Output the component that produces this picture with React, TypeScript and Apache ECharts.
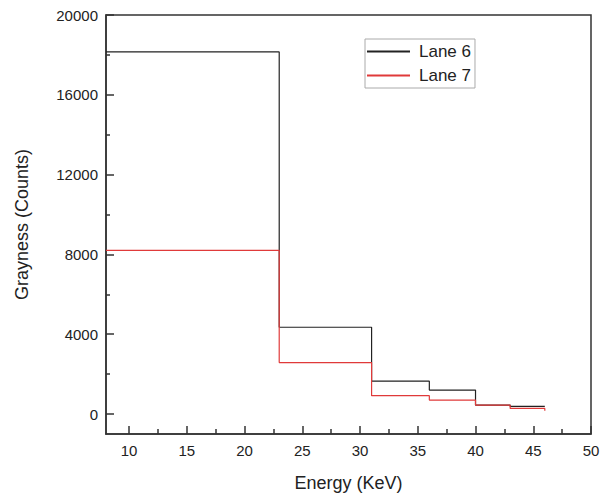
import React, { useEffect, useRef } from "react";
import * as echarts from "echarts";

const energy6 = [8, 23, 31, 36, 40, 43, 46];
const lane6 = [18150, 4350, 1650, 1200, 450, 380, 380];
const energy7 = [8, 23, 31, 36, 40, 43, 46, 46];
const lane7 = [8200, 2580, 920, 700, 450, 280, 280, 160];
const xMajor = [10, 15, 20, 25, 30, 35, 40, 45, 50];
const xMinor = [12.5, 17.5, 22.5, 27.5, 32.5, 37.5, 42.5, 47.5];
const yMajor = [0, 4000, 8000, 12000, 16000, 20000];
const yMinor = [2000, 6000, 10000, 14000, 18000];

export default function App() {
  const ref = useRef<HTMLDivElement>(null);
  useEffect(() => {
    if (!ref.current) return;
    const chart = echarts.init(ref.current, null, { renderer: "svg" });
    const axisColor = "#333";
    const font = "Liberation Sans, Arial, sans-serif";
    chart.setOption({
      animation: false,
      backgroundColor: "#fff",
      grid: {
        left: 106, right: 13, top: 15, bottom: 61,
        show: true, borderColor: axisColor, borderWidth: 1.5, backgroundColor: "transparent",
      },
      legend: {
        data: ["Lane 6", "Lane 7"],
        orient: "vertical",
        left: 365, top: 39,
        borderColor: "#aaa", borderWidth: 1,
        padding: [4, 4, 4, 2],
        itemGap: 7,
        itemWidth: 43, itemHeight: 2,
        icon: "rect",
        textStyle: { fontSize: 17, color: "#222", fontFamily: font, padding: [0, 0, 0, 4] },
      },
      xAxis: [
        {
          type: "value", min: 8, max: 50,
          name: "Energy (KeV)", nameLocation: "middle", nameGap: 40,
          nameTextStyle: { fontSize: 18, color: "#222", fontFamily: font },
          splitLine: { show: false },
          axisLine: { show: true, onZero: false, lineStyle: { color: axisColor, width: 1.5 } },
          axisTick: { show: true, inside: true, length: 8, customValues: xMajor, lineStyle: { color: axisColor, width: 1.5 } },
          axisLabel: { customValues: xMajor, fontSize: 15, color: "#222", fontFamily: font, margin: 9 },
        },
        {
          type: "value", min: 8, max: 50, position: "bottom",
          splitLine: { show: false },
          axisLine: { show: false, onZero: false },
          axisTick: { show: true, inside: true, length: 5, customValues: xMinor, lineStyle: { color: axisColor, width: 1.5 } },
          axisLabel: { show: false, customValues: xMinor },
        },
      ],
      yAxis: [
        {
          type: "value", min: -1000, max: 20000,
          name: "Grayness (Counts)", nameLocation: "middle", nameGap: 75,
          nameTextStyle: { fontSize: 18, color: "#222", fontFamily: font },
          splitLine: { show: false },
          axisLine: { show: true, onZero: false, lineStyle: { color: axisColor, width: 1.5 } },
          axisTick: { show: true, inside: true, length: 8, customValues: yMajor, lineStyle: { color: axisColor, width: 1.5 } },
          axisLabel: {
            customValues: yMajor, fontSize: 15, color: "#222", fontFamily: font, margin: 8,
            formatter: (v: number) => String(v),
          },
        },
        {
          type: "value", min: -1000, max: 20000, position: "left",
          splitLine: { show: false },
          axisLine: { show: false, onZero: false },
          axisTick: { show: true, inside: true, length: 4, customValues: yMinor, lineStyle: { color: axisColor, width: 1.5 } },
          axisLabel: { show: false, customValues: yMinor },
        },
      ],
      series: [
        {
          name: "Lane 6", type: "line", step: "end", showSymbol: false, symbol: "none",
          data: energy6.map((e, i) => [e, lane6[i]]),
          lineStyle: { color: "#222", width: 1.2 }, itemStyle: { color: "#222" },
        },
        {
          name: "Lane 7", type: "line", step: "end", showSymbol: false, symbol: "none",
          data: energy7.map((e, i) => [e, lane7[i]]),
          lineStyle: { color: "#e03a3a", width: 1.2 }, itemStyle: { color: "#e03a3a" },
        },
      ],
    });
    return () => chart.dispose();
  }, []);
  return <div ref={ref} style={{ width: 604, height: 497, position: "absolute", left: 0, top: 0 }} />;
}
